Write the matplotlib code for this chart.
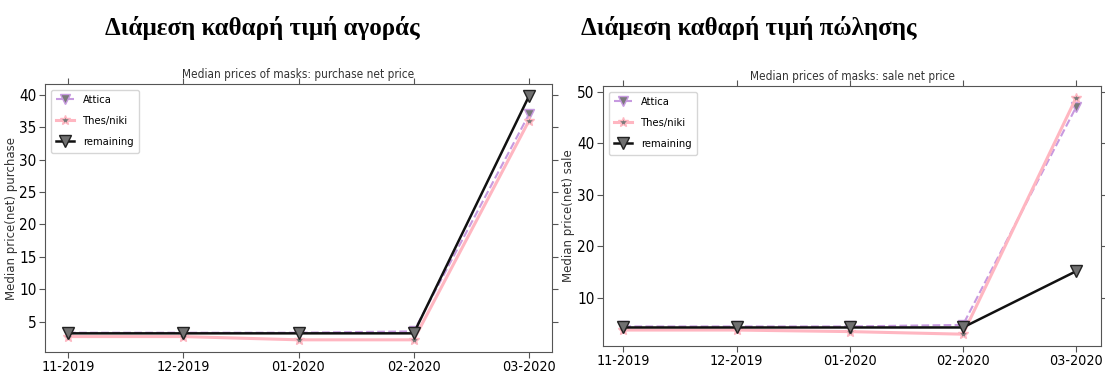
import numpy as np
import matplotlib.pyplot as plt
from matplotlib import font_manager

months = ["11-2019", "12-2019", "01-2020", "02-2020", "03-2020"]

# median purchase net price
purchase_attica = [3.3, 3.3, 3.3, 3.5, 37.0]
purchase_thes = [2.7, 2.7, 2.2, 2.2, 36.0]
purchase_remaining = [3.2, 3.2, 3.2, 3.2, 39.8]

# median sale net price
sale_attica = [4.5, 4.5, 4.5, 4.8, 47.0]
sale_thes = [3.8, 3.8, 3.5, 3.0, 48.8]
sale_remaining = [4.3, 4.3, 4.3, 4.3, 15.2]

greek_titles = ["Διάμεση καθαρή τιμή αγοράς", "Διάμεση καθαρή τιμή πώλησης"]
plot_titles = ["Median prices of masks: purchase net price",
               "Median prices of masks: sale net price"]
ylabels = ["Median price(net) purchase", "Median price(net) sale"]

# pick a narrow face for ticks/legend if one is available
narrow_path = None
for f in font_manager.fontManager.ttflist:
    if f.style == 'normal' and f.weight in (400, 'normal', 'regular') and \
            (f.stretch in ('condensed', 'semi-condensed') or 'Narrow' in f.name
             or 'Condensed' in f.name):
        narrow_path = f.fname
        break
if narrow_path:
    def nfont(size):
        return font_manager.FontProperties(fname=narrow_path, size=size)
else:
    def nfont(size):
        return font_manager.FontProperties(family='DejaVu Sans', size=size * 0.8)
tick_size = 10.3

fig = plt.figure(figsize=(11.05, 3.74), dpi=100)
ax1 = fig.add_axes([45 / 1105, 1 - 352 / 374, 507 / 1105, 268 / 374])
ax2 = fig.add_axes([603 / 1105, 1 - 346 / 374, 498 / 1105, 260 / 374])

def draw(ax, attica, thes, remaining, title, ylabel, yticks):
    x = np.arange(len(months))
    ax.plot(x, attica, '--v', color='#c79ae0', lw=1.5, ms=7,
            mfc='#7a7a7a', mec='#c79ae0', label='Attica')
    ax.plot(x, thes, '-*', color='#ffb6c1', lw=2.2, ms=7,
            mfc='#7a7a7a', mec='#ffb6c1', label='Thes/niki')
    ax.plot(x, remaining, '-v', color='#111111', lw=1.8, ms=8,
            mfc='#707070', mec='#222222', label='remaining')
    ax.set_xticks(x)
    ax.set_xticklabels(months, fontproperties=nfont(tick_size))
    ax.set_xlim(-0.2, 4.2)
    ax.set_yticks(yticks)
    ax.set_yticklabels([str(v) for v in yticks], fontproperties=nfont(11))
    ax.tick_params(axis='y', pad=2)
    ax.tick_params(axis='x', pad=2)
    ax.tick_params(top=True, right=True, direction='out', length=4, color='#555555')
    ax.set_title(title, fontproperties=nfont(8.5), color='#333333', pad=4)
    ax.set_ylabel(ylabel, fontsize=8.5, color='#333333')
    for s in ax.spines.values():
        s.set_color('#555555')
    ax.legend(loc='upper left', prop=nfont(8),
              handlelength=1.6, borderpad=0.5, labelspacing=1.0)

draw(ax1, purchase_attica, purchase_thes, purchase_remaining,
     plot_titles[0], ylabels[0], [5, 10, 15, 20, 25, 30, 35, 40])
draw(ax2, sale_attica, sale_thes, sale_remaining,
     plot_titles[1], ylabels[1], [10, 20, 30, 40, 50])
ax2.set_xlim(-0.18, 4.22)
ax1.yaxis.set_label_coords(-0.053, 0.5)
ax2.yaxis.set_label_coords(-0.056, 0.5)

fig.text(262 / 1105, 0.925, greek_titles[0], ha='center', va='center',
         fontsize=18, fontweight='bold', family='Liberation Serif')
fig.text(749 / 1105, 0.925, greek_titles[1], ha='center', va='center',
         fontsize=18, fontweight='bold', family='Liberation Serif')

fig.savefig('out.png', dpi=100)
